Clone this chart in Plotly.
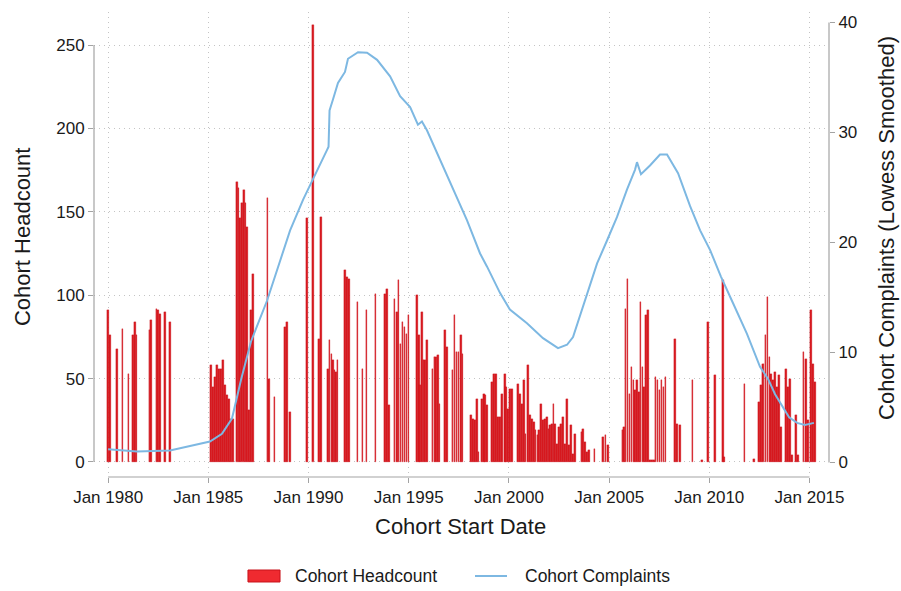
import pandas as pd
import plotly.graph_objects as go

# ---- data ----
# cohort start dates as decimal years, with cohort headcount
bar_year = [
    1980.00, 1980.08, 1980.43, 1980.71, 1981.01, 1981.25, 1981.33, 1981.42, 1982.06, 1982.14, 1982.41, 1982.50, 1982.60, 1982.85, 1983.09,
    1985.14, 1985.23, 1985.33, 1985.43, 1985.53, 1985.63, 1985.73, 1985.83, 1985.93, 1986.03, 1986.13, 1986.23,
    1986.42, 1986.51, 1986.59, 1986.68, 1986.77, 1986.85, 1986.93, 1987.02, 1987.12, 1987.22,
    1987.95, 1988.04, 1988.31, 1988.83, 1988.93, 1989.08,
    1989.94, 1990.21, 1990.54, 1990.63, 1990.97, 1991.05, 1991.14, 1991.21, 1991.30, 1991.37, 1991.45,
    1991.83, 1991.92, 1992.01, 1992.45, 1992.70, 1992.89, 1993.34, 1993.83, 1993.93, 1994.02,
    1994.29, 1994.40, 1994.49, 1994.59, 1994.69, 1994.79, 1994.89, 1994.99,
    1995.40, 1995.50, 1995.58, 1995.66, 1995.74, 1995.83, 1995.91,
    1996.19, 1996.28, 1996.36, 1996.45, 1996.54, 1996.80, 1996.90,
    1997.19, 1997.29, 1997.39, 1997.49, 1997.60, 1997.69,
    1998.12, 1998.22, 1998.31, 1998.39, 1998.48, 1998.64, 1998.74, 1998.82, 1998.91,
    1999.16, 1999.26, 1999.36, 1999.47, 1999.57, 1999.67, 1999.79, 1999.87, 1999.96, 2000.04, 2000.14,
    2000.44, 2000.54, 2000.64, 2000.74, 2000.82, 2000.94,
    2001.04, 2001.14, 2001.24, 2001.33, 2001.42, 2001.51, 2001.61, 2001.71, 2001.80, 2001.89, 2001.98,
    2002.06, 2002.14, 2002.23, 2002.31, 2002.39, 2002.49, 2002.60, 2002.70, 2002.79, 2002.89,
    2003.00, 2003.10, 2003.20, 2003.30,
    2003.62, 2003.71, 2003.80, 2003.90, 2004.01, 2004.27, 2004.71, 2004.82, 2004.94,
    2005.66, 2005.74, 2005.82, 2005.91,
    2006.01, 2006.11, 2006.21, 2006.30, 2006.39, 2006.48, 2006.57, 2006.66, 2006.75, 2006.85, 2006.94,
    2007.04, 2007.14, 2007.24, 2007.32, 2007.41, 2007.51, 2007.61, 2007.71, 2007.81,
    2008.30, 2008.40, 2008.55, 2009.16, 2009.64, 2009.93, 2010.29, 2010.67, 2010.73,
    2011.76, 2012.24, 2012.49, 2012.59, 2012.69, 2012.80, 2012.90,
    2013.00, 2013.09, 2013.19, 2013.29, 2013.39, 2013.49, 2013.59, 2013.82, 2013.93,
    2014.03, 2014.13, 2014.32, 2014.43, 2014.70, 2014.81, 2014.92,
    2015.07, 2015.17, 2015.26,
]
headcount = [
    91, 76, 68, 80, 53, 76, 84, 76, 79, 85, 92, 91, 89, 90, 84,
    58, 45, 51, 58, 56, 56, 61, 46, 40, 38, 26, 26,
    168, 164, 146, 155, 163, 155, 141, 31, 91, 113,
    158, 50, 39, 81, 84, 30,
    146, 262, 74, 147, 56, 73, 65, 61, 55, 54, 61,
    115, 111, 110, 96, 56, 91, 101, 101, 104, 34,
    98, 90, 109, 71, 84, 81, 77, 88,
    100, 76, 46, 90, 61, 61, 73,
    56, 63, 63, 64, 35, 79, 69,
    55, 88, 66, 66, 76, 65,
    28, 26, 25, 38, 6, 38, 41, 40, 34,
    48, 53, 53, 27, 27, 41, 53, 45, 32, 44, 44,
    47, 41, 35, 49, 17, 58,
    28, 26, 24, 19, 16, 19, 35, 25, 26, 27, 20,
    22, 23, 35, 23, 11, 21, 23, 27, 11, 38,
    10, 22, 5, 17,
    18, 20, 12, 6, 7, 8, 15, 16, 10,
    19, 21, 92, 110,
    41, 57, 49, 43, 49, 42, 96, 57, 45, 88, 91,
    1, 1, 1, 51, 49, 43, 49, 45, 51,
    74, 23, 22, 49, 1, 84, 52, 109, 3,
    47, 2, 36, 46, 59, 76, 99,
    63, 53, 49, 54, 45, 52, 21, 56, 45,
    50, 4, 28, 4, 66, 62, 25,
    91, 59, 48,
]

# lowess-smoothed complaints
line_year = [
    1980.00, 1981.44, 1983.09, 1985.08, 1985.68, 1986.18, 1986.63, 1987.13, 1987.93, 1988.58,
    1989.08, 1989.73, 1990.42, 1990.92, 1991.00, 1991.05, 1991.22, 1991.47, 1991.82, 1991.97,
    1992.47, 1992.92, 1993.42, 1994.07, 1994.57, 1994.82, 1995.07, 1995.46, 1995.66, 1995.91,
    1996.56, 1997.21, 1997.91, 1998.56, 1998.91, 1999.56, 2000.05, 2000.90, 2001.70, 2002.45,
    2002.90, 2003.20, 2003.55, 2003.90, 2004.40, 2004.90, 2005.39, 2005.89, 2006.29, 2006.39,
    2006.59, 2007.04, 2007.54, 2007.89, 2008.44, 2009.04, 2009.54, 2010.04, 2010.58, 2011.18,
    2011.88, 2012.53, 2012.93, 2013.28, 2013.58, 2013.98, 2014.38, 2014.77, 2015.22,
]
complaints = [
    1.2, 1.0, 1.1, 1.9, 2.6, 4.0, 7.5, 11.0, 14.7, 18.4,
    21.1, 23.9, 26.6, 28.4, 28.7, 32.0, 33.0, 34.5, 35.5, 36.7,
    37.3, 37.25, 36.6, 35.1, 33.3, 32.8, 32.3, 30.7, 31.0, 30.2,
    27.5, 24.8, 22.0, 19.0, 17.8, 15.4, 13.9, 12.65, 11.3, 10.4,
    10.7, 11.4, 13.3, 15.4, 18.1, 20.2, 22.3, 24.8, 26.6, 27.3,
    26.2, 27.0, 28.0, 28.0, 26.3, 23.3, 21.1, 19.3, 16.9, 14.5,
    11.7, 8.7, 7.6, 6.2, 5.3, 4.1, 3.6, 3.4, 3.6,
]

x_tick_years = [1980, 1985, 1990, 1995, 2000, 2005, 2010, 2015]
x_tick_labels = ["Jan 1980", "Jan 1985", "Jan 1990", "Jan 1995",
                 "Jan 2000", "Jan 2005", "Jan 2010", "Jan 2015"]
left_ticks = [0, 50, 100, 150, 200, 250]
right_ticks = [0, 10, 20, 30, 40]


def to_ts(y):
    yr = int(y)
    frac = y - yr
    start = pd.Timestamp(year=yr, month=1, day=1)
    end = pd.Timestamp(year=yr + 1, month=1, day=1)
    return start + (end - start) * frac


bar_x = [to_ts(v) for v in bar_year]
line_x = [to_ts(v) for v in line_year]

FONT = "Liberation Sans, Arial, Helvetica, sans-serif"
GRID = "#c4c4c4"
GRID_DASH = "1px,4px"
AX = "#a3a3a3"
RED = "#d91a20"
RED_EDGE = "#c8121a"
BLUE = "#7db8e2"

fig = go.Figure()
fig.add_trace(go.Bar(
    x=bar_x, y=headcount, width=31 * 86400000,
    marker=dict(color=RED, line=dict(color=RED_EDGE, width=0.3)),
    yaxis="y", name="Cohort Headcount", showlegend=False,
))
fig.add_trace(go.Scatter(
    x=line_x, y=complaints, mode="lines",
    line=dict(color=BLUE, width=2),
    yaxis="y2", name="Cohort Complaints", showlegend=False,
))

fig.update_layout(
    width=901, height=591,
    margin=dict(l=94, r=72, t=12, b=114),
    plot_bgcolor="white", paper_bgcolor="white",
    font=dict(family=FONT, size=17, color="#1a1a1a"),
    showlegend=False, bargap=0,
    xaxis=dict(
        type="date",
        range=[to_ts(1979.296), to_ts(2015.973)],
        tickvals=[to_ts(y) for y in x_tick_years], ticktext=x_tick_labels,
        ticks="outside", ticklen=5, tickcolor=AX, tickwidth=1,
        showgrid=True, gridcolor=GRID, griddash=GRID_DASH, gridwidth=1,
        showline=False, zeroline=False,
        tickfont=dict(size=17),
    ),
    yaxis=dict(
        range=[-9.0, 269.8], tickvals=left_ticks,
        ticks="outside", ticklen=5, tickcolor=AX, tickwidth=1,
        showgrid=True, gridcolor=GRID, griddash=GRID_DASH, gridwidth=1,
        showline=False, zeroline=False,
        tickfont=dict(size=17),
    ),
    yaxis2=dict(
        overlaying="y", side="right",
        range=[-1.32, 40.95], tickvals=right_ticks,
        ticks="outside", ticklen=5, tickcolor=AX, tickwidth=1,
        showgrid=False, showline=False, zeroline=False,
        tickfont=dict(size=17),
    ),
)

shapes = [
    dict(type="line", xref="paper", yref="y", x0=0, x1=0, y0=0, y1=250,
         line=dict(color=AX, width=1.2)),
    dict(type="line", xref="paper", yref="y2", x0=1, x1=1, y0=0, y1=40,
         line=dict(color=AX, width=1.2)),
    dict(type="line", xref="x", yref="paper", x0=to_ts(1980), x1=to_ts(2015),
         y0=0, y1=0, line=dict(color=AX, width=1.2)),
    # legend swatches
    dict(type="rect", xref="paper", yref="paper", x0=0.2095, x1=0.2531,
         y0=-0.2258, y1=-0.2, fillcolor="#ef2a30", line=dict(color=RED_EDGE, width=1)),
    dict(type="line", xref="paper", yref="paper", x0=0.5184, x1=0.5619,
         y0=-0.2129, y1=-0.2129, line=dict(color=BLUE, width=2)),
]
fig.update_layout(shapes=shapes)

annotations = [
    dict(text="Cohort Headcount", xref="paper", yref="paper", x=-0.098, y=0.518,
         textangle=-90, showarrow=False, font=dict(size=22), xanchor="center", yanchor="middle"),
    dict(text="Cohort Complaints (Lowess Smoothed)", xref="paper", yref="paper",
         x=1.0789, y=0.5355, textangle=-90, showarrow=False, font=dict(size=22),
         xanchor="center", yanchor="middle"),
    dict(text="Cohort Start Date", xref="paper", yref="paper", x=0.4993, y=-0.1075,
         showarrow=False, font=dict(size=22), xanchor="center", yanchor="middle"),
    dict(text="Cohort Headcount", xref="paper", yref="paper", x=0.2707, y=-0.2129,
         showarrow=False, font=dict(size=17.5), xanchor="left", yanchor="middle"),
    dict(text="Cohort Complaints", xref="paper", yref="paper", x=0.5837, y=-0.2129,
         showarrow=False, font=dict(size=17.5), xanchor="left", yanchor="middle"),
]
fig.update_layout(annotations=annotations)

fig.write_html("out.html")
